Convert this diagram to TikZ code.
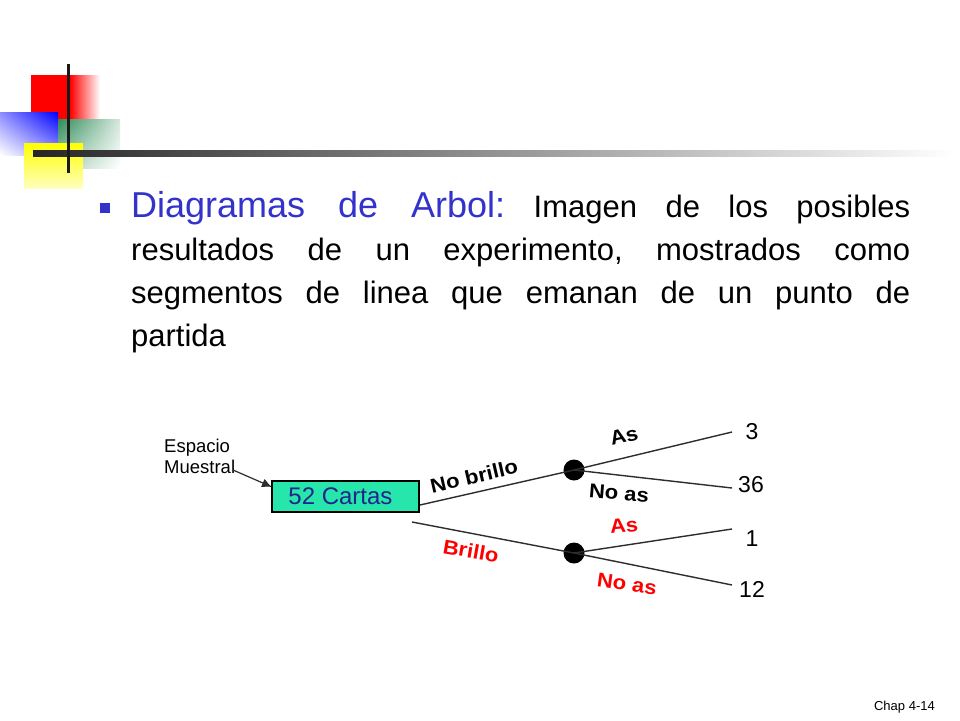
\documentclass[tikz,border=0pt]{standalone}
\usepackage{fontspec}
\setmainfont{Liberation Sans}
\newfontfamily\treefont[FakeStretch=1.1]{Liberation Sans}
\usepackage{xcolor}
\usepackage{tikz}
\usetikzlibrary{arrows,arrows.meta}
\usetikzlibrary{shadings}

\definecolor{titleblue}{RGB}{51,51,204}
\definecolor{boxfill}{RGB}{38,230,172}
\definecolor{boxtext}{RGB}{35,35,140}
\definecolor{sgreen}{RGB}{46,139,87}
\definecolor{branch}{RGB}{45,45,45}

\tikzset{
	cartabox/.style={draw,line width=1.5pt,fill=boxfill,text=boxtext,minimum width=147pt,minimum height=31pt,inner sep=0pt,font=\fontsize{24}{26}\selectfont},
	dot/.style={circle,fill=black,minimum size=21pt,inner sep=0pt},
	rama/.style={line width=1.4pt,draw=branch},
	etiq/.style={inner sep=0pt,font=\treefont\bfseries\fontsize{20}{22}\selectfont},
	num/.style={inner sep=0pt,font=\fontsize{23}{26}\selectfont},
}

\begin{document}
\begin{tikzpicture}[x=1pt,y=-1pt]
	 \useasboundingbox[fill=white] (0,0) rectangle (960,720);
	 \fill[red] (31,75) rectangle (70,140);
	 \shade[left color=red,right color=white] (70,75) rectangle (100,140);
	 \shade[upper right=blue,upper left=blue!45,lower right=blue!40,lower left=white] (0,112) rectangle (58,155);
	 \shade[upper left=sgreen,upper right=sgreen!20,lower left=sgreen!40,lower right=white] (58,119) rectangle (120,168);
	 \shade[top color=yellow,bottom color=yellow!25] (24,143) rectangle (83,188);
	 \shade[left color=black!85,right color=white] (33,150) rectangle (955,156);
	 \fill[black!90] (66.5,64) rectangle (70,173);
	 \node (bullet) [fill=titleblue,minimum size=10pt,inner sep=0pt] at (105,208) {};
	 \node (texto) [anchor=base west,text width=779pt,align=justify,inner sep=0pt,font=\fontsize{31}{43}\selectfont\frenchspacing] at (131,217)
	 	{{\color{titleblue}\fontsize{36}{43}\selectfont Diagramas de Arbol:} Imagen de los posibles\linebreak
	 	resultados de un experimento, mostrados como\linebreak
	 	segmentos de linea que emanan de un punto de\linebreak
	 	partida};
	 \node (espacio) [anchor=north west,align=left,inner sep=0pt,font=\fontsize{18.5}{21}\selectfont] at (164,439) {Espacio\\Muestral};
	 \node (cartas) [cartabox] at (345.5,496.5) {\hspace*{-10pt}52 Cartas};
	 \coordinate (ms) at (233,470);
	 \coordinate (tip) at (272,487);
	 \draw[-{Latex[length=10pt,width=9pt]},line width=1.2pt,draw=branch] (ms) -- (tip);
	 \node (d1) [dot] at (574,470) {};
	 \node (d2) [dot] at (574,553) {};
	 \coordinate (b1) at (420,505);
	 \coordinate (b2) at (412,522);
	 \coordinate (e3) at (732,432);
	 \coordinate (e36) at (732,488);
	 \coordinate (e1) at (732,529);
	 \coordinate (e12) at (732,585);
	 \draw[rama] (b1) -- (d1.center);
	 \draw[rama] (b2) -- (d2.center);
	 \draw[rama] (d1.center) -- (e3);
	 \draw[rama] (d1.center) -- (e36);
	 \draw[rama] (d2.center) -- (e1);
	 \draw[rama] (d2.center) -- (e12);
	 \node (n3) [num] at (752,432) {3};
	 \node (n36) [num] at (751,485) {36};
	 \node (n1) [num] at (752,539) {1};
	 \node (n12) [num] at (752,589) {12};
	 \node (nobrillo) [etiq,rotate=13] at (474,476) {No brillo};
	 \node (as1) [etiq,rotate=13.5] at (624,436) {As};
	 \node (noas1) [etiq,rotate=-5] at (619,493) {No as};
	 \node (brillo) [etiq,text=red,rotate=-10] at (471,551) {Brillo};
	 \node (as2) [etiq,text=red,rotate=5] at (624,526) {As};
	 \node (noas2) [etiq,text=red,rotate=-8] at (627,584) {No as};
	 \node (chap) [anchor=east,inner sep=0pt,font=\fontsize{13}{15}\selectfont] at (935,707) {Chap 4-14};
\end{tikzpicture}
\end{document}
